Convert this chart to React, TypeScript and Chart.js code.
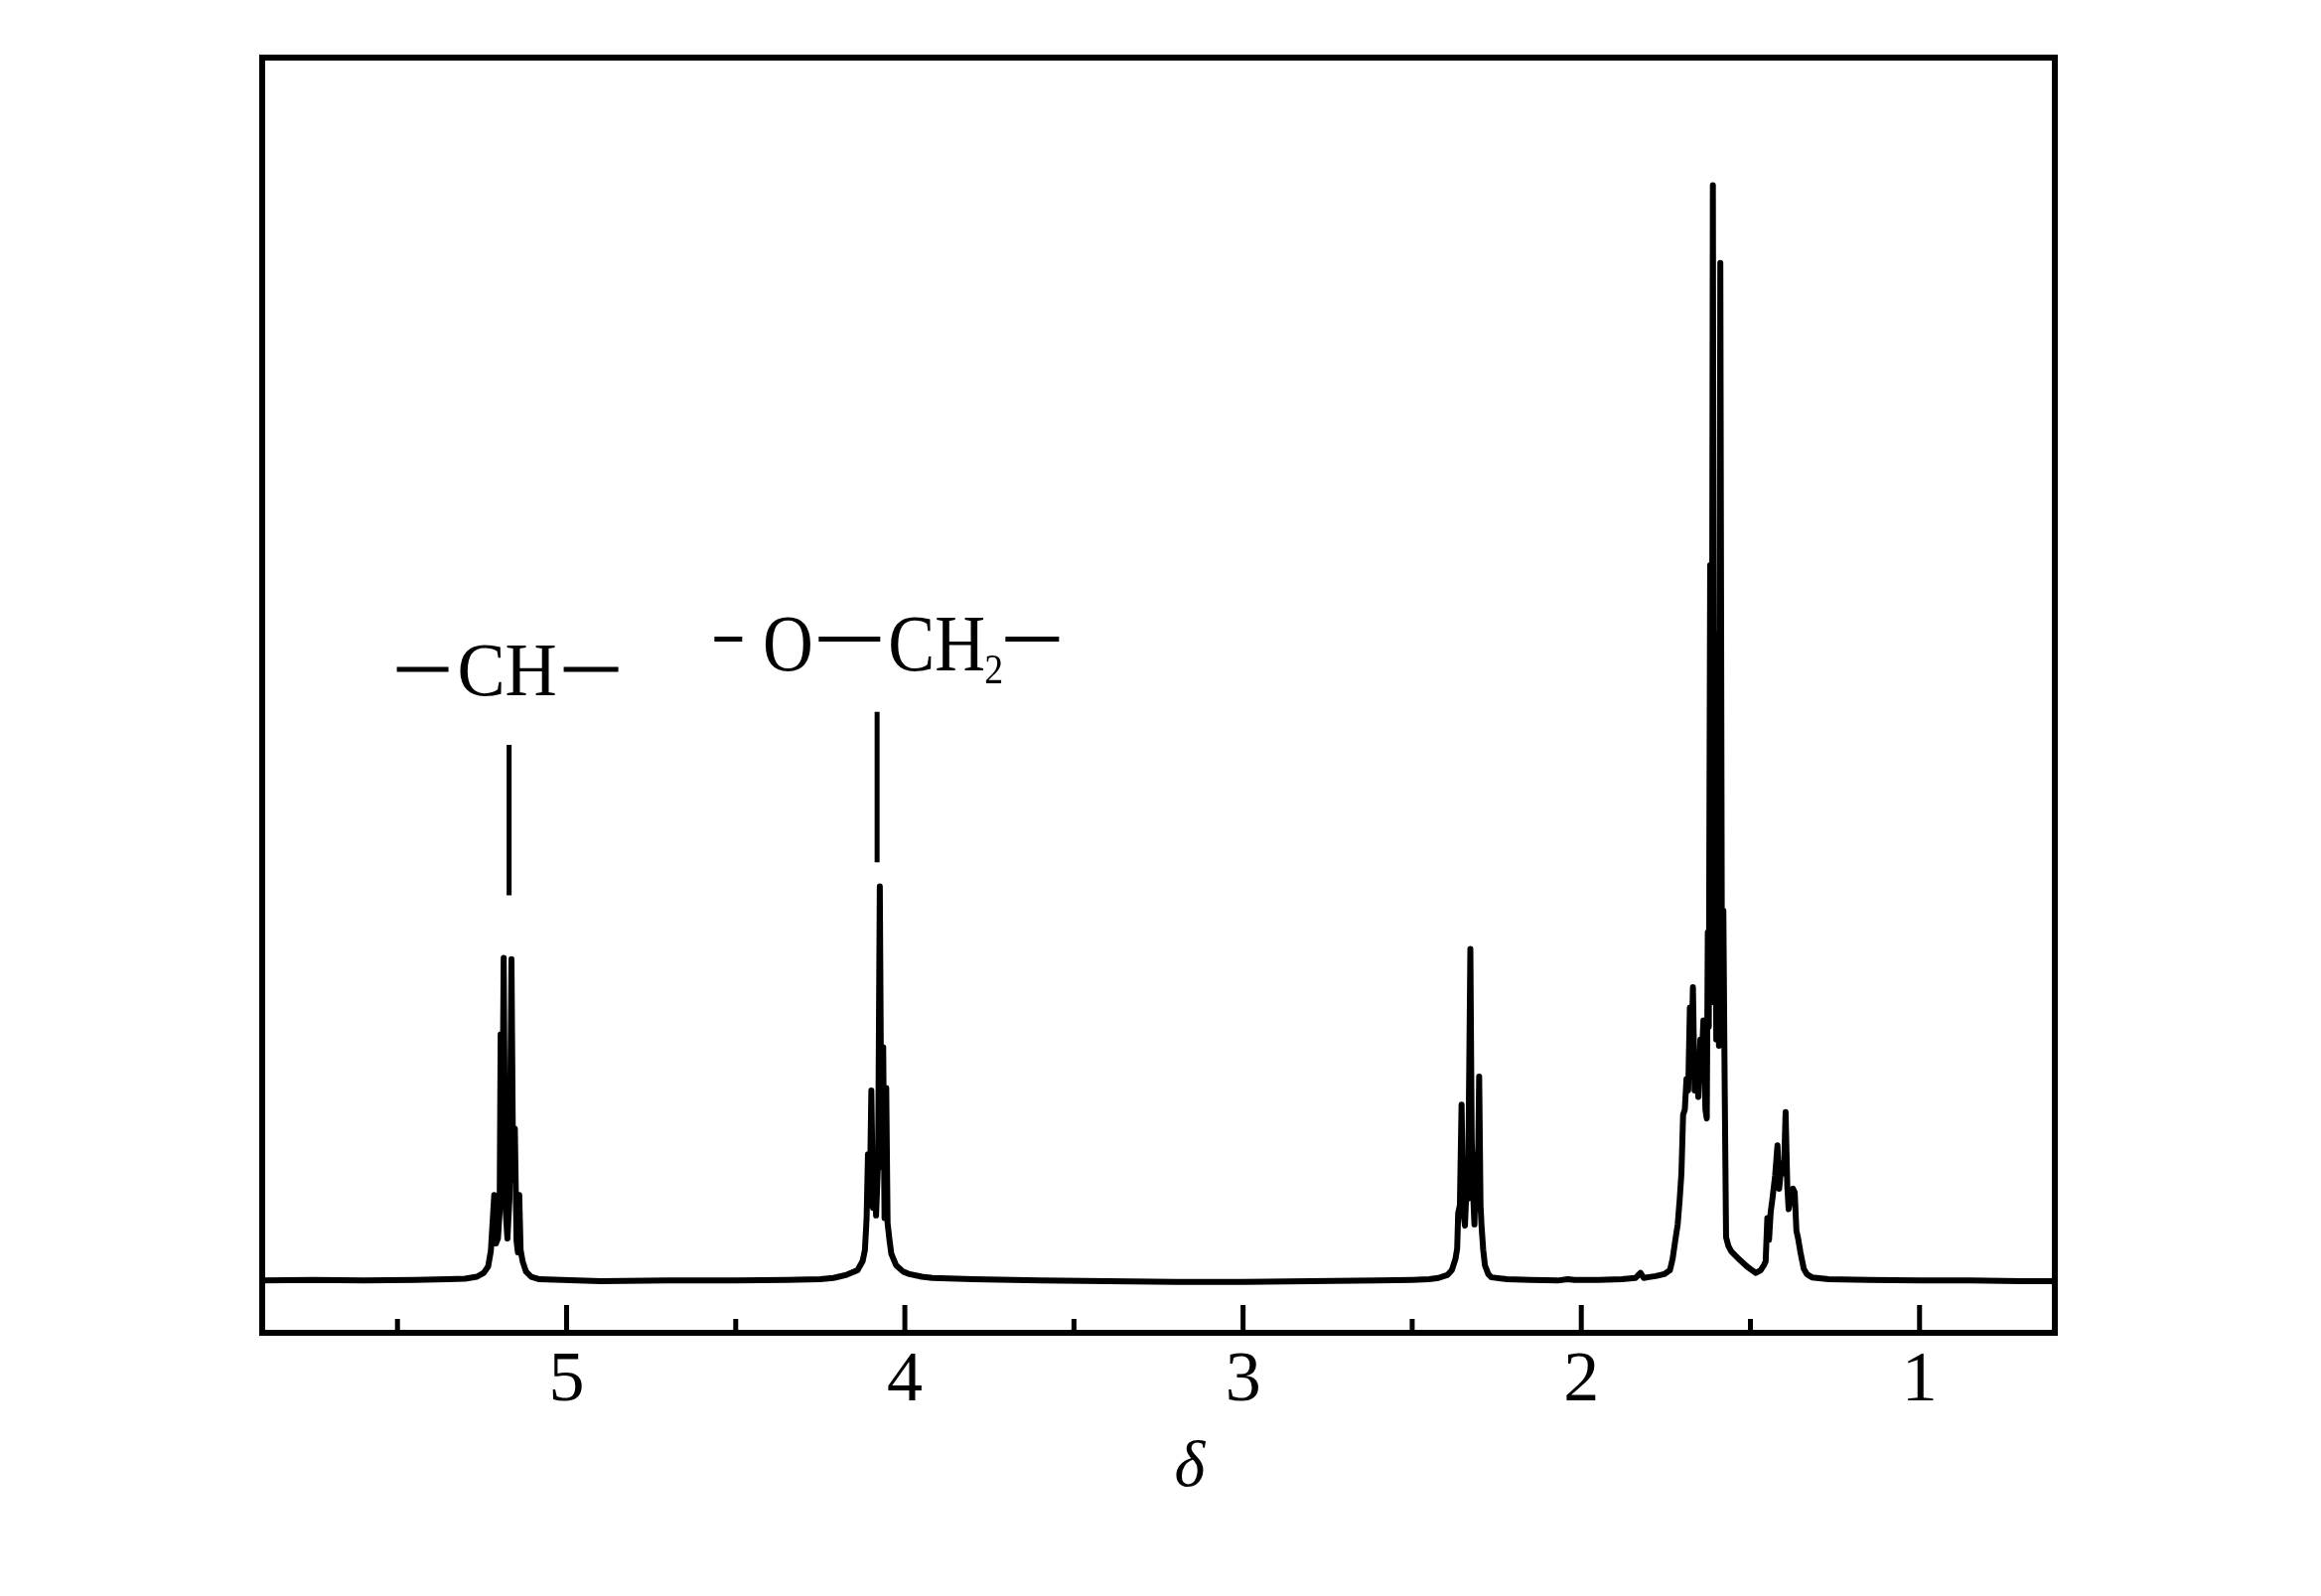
import { useEffect, useRef } from "react";
import { Chart, registerables } from "chart.js";

Chart.register(...registerables);

// ---- Spectrum data (chemical shift in ppm, intensity in arbitrary units) ----
const baseAPpm = [5.9, 5.75, 5.6, 5.45, 5.35];
const baseAInt = [0.1, 0.15, 0.1, 0.15, 0.2];

const chPpm = [5.3, 5.265, 5.245, 5.232, 5.224, 5.218, 5.214, 5.209, 5.203, 5.198, 5.195, 5.191, 5.186, 5.181, 5.175, 5.169, 5.163, 5.158, 5.153, 5.148, 5.144, 5.14, 5.136, 5.13, 5.12, 5.105, 5.08];
const chInt = [0.25, 0.4, 0.7, 1.2, 2.4, 5.0, 6.8, 3.0, 3.4, 5.5, 19.4, 8.5, 25.4, 6.0, 3.4, 6.5, 25.3, 8.0, 12.0, 3.2, 2.3, 6.8, 2.5, 1.6, 0.8, 0.4, 0.2];

const baseBPpm = [4.9, 4.7, 4.5, 4.35, 4.25];
const baseBInt = [0.05, 0.1, 0.1, 0.15, 0.2];

const och2Ppm = [4.211, 4.172, 4.14, 4.125, 4.118, 4.113, 4.109, 4.104, 4.099, 4.094, 4.089, 4.085, 4.079, 4.074, 4.069, 4.064, 4.06, 4.055, 4.051, 4.045, 4.04, 4.026, 4.005, 3.986, 3.95, 3.918];
const och2Int = [0.3, 0.55, 0.9, 1.6, 2.5, 5.0, 10.0, 6.0, 15.0, 5.8, 8.0, 5.2, 9.5, 31.0, 9.0, 18.4, 5.0, 15.2, 4.6, 3.2, 2.2, 1.3, 0.8, 0.6, 0.4, 0.3];

const baseCPpm = [3.8, 3.6, 3.4, 3.2, 3.0, 2.8, 2.6, 2.5, 2.45];
const baseCInt = [0.2, 0.1, 0.05, 0.0, 0.0, 0.05, 0.1, 0.15, 0.2];

const m23Ppm = [2.422, 2.395, 2.383, 2.372, 2.367, 2.364, 2.359, 2.354, 2.349, 2.344, 2.34, 2.335, 2.328, 2.324, 2.32, 2.316, 2.311, 2.306, 2.302, 2.298, 2.295, 2.29, 2.285, 2.275, 2.266, 2.22];
const m23Int = [0.3, 0.55, 0.9, 1.8, 2.6, 5.4, 6.0, 13.9, 5.5, 4.4, 7.0, 6.5, 26.1, 11.1, 7.0, 4.5, 10.0, 8.0, 16.1, 6.0, 4.4, 2.5, 1.3, 0.6, 0.35, 0.2];

const baseDPpm = [2.15, 2.07, 2.04, 2.02, 1.95, 1.88, 1.84, 1.825, 1.815, 1.805];
const baseDInt = [0.15, 0.1, 0.2, 0.15, 0.15, 0.2, 0.3, 0.7, 0.3, 0.35];

const m16Ppm = [1.78, 1.755, 1.738, 1.73, 1.723, 1.715, 1.709, 1.704, 1.699, 1.694, 1.689, 1.684, 1.679, 1.675, 1.67, 1.665, 1.66, 1.654, 1.648, 1.643, 1.639, 1.633, 1.629, 1.626, 1.623, 1.619, 1.615, 1.611, 1.607, 1.604, 1.601, 1.597, 1.593, 1.589, 1.584, 1.58, 1.576, 1.572, 1.565, 1.557, 1.535, 1.51, 1.495, 1.484, 1.47, 1.46];
const m16Int = [0.45, 0.6, 0.9, 1.8, 3.1, 4.5, 6.5, 8.5, 13.1, 13.5, 15.9, 15.0, 21.5, 17.0, 23.1, 15.0, 16.5, 14.5, 19.0, 18.0, 20.5, 13.5, 12.8, 27.4, 20.0, 56.2, 22.0, 86.0, 21.9, 40.2, 19.0, 50.8, 18.5, 79.9, 20.0, 29.1, 15.1, 3.5, 2.8, 2.4, 1.8, 1.2, 0.9, 0.7, 0.9, 1.3];

const m14Ppm = [1.455, 1.45, 1.445, 1.44, 1.435, 1.427, 1.42, 1.415, 1.408, 1.401, 1.396, 1.391, 1.387, 1.382, 1.374, 1.369, 1.364, 1.359, 1.352, 1.342, 1.333, 1.318, 1.269];
const m14Int = [1.6, 5.0, 3.3, 5.5, 6.5, 8.3, 10.7, 7.3, 9.3, 8.5, 13.3, 7.5, 5.7, 6.5, 7.3, 7.0, 4.0, 3.4, 2.3, 1.0, 0.6, 0.35, 0.2];

const baseEPpm = [1.15, 1.0, 0.85, 0.7, 0.6];
const baseEInt = [0.15, 0.1, 0.1, 0.05, 0.05];

// ---- Axis ----
const xTickValues = [5.5, 5, 4.5, 4, 3.5, 3, 2.5, 2, 1.5, 1];
const X_MIN = 0.6;
const X_MAX = 5.9;
const Y_MIN = -4;
const Y_MAX = 96;
const axisTitle = "δ";
const axisTitlePpm = 3.158;

// ---- Assignment markers (ppm, low and high intensity of the bar) ----
const markerPpm = [5.17, 4.082];
const markerLow = [30.3, 32.9];
const markerHigh = [42.1, 44.7];

// ---- Assignment labels ----
const chLabel = { text: "CH", ppm: 5.176, level: 46.0 };
const och2Label = { o: "O", ch: "CH", sub: "2", ppm: 4.563, level: 47.4 };

const W = 2337;
const H = 1607;
const FONT = '"Liberation Serif", "Times New Roman", serif';

function toPoints(ppm: number[], inten: number[]) {
  return ppm.map((x, i) => ({ x, y: inten[i] }));
}

const spectrum = [
  ...toPoints(baseAPpm, baseAInt),
  ...toPoints(chPpm, chInt),
  ...toPoints(baseBPpm, baseBInt),
  ...toPoints(och2Ppm, och2Int),
  ...toPoints(baseCPpm, baseCInt),
  ...toPoints(m23Ppm, m23Int),
  ...toPoints(baseDPpm, baseDInt),
  ...toPoints(m16Ppm, m16Int),
  ...toPoints(m14Ppm, m14Int),
  ...toPoints(baseEPpm, baseEInt),
];

function squeezedText(ctx: CanvasRenderingContext2D, text: string, x: number, y: number, sx: number, align: CanvasTextAlign) {
  ctx.save();
  ctx.translate(x, y);
  ctx.scale(sx, 1);
  ctx.textAlign = align;
  ctx.fillText(text, 0, 0);
  ctx.restore();
}

const decorPlugin = {
  id: "nmrDecor",
  afterDraw(chart: any) {
    const { ctx, chartArea: ca, scales } = chart;
    const xs = scales.x;
    const ys = scales.y;
    ctx.save();
    ctx.strokeStyle = "#000";
    ctx.fillStyle = "#000";
    // frame
    ctx.lineWidth = 6;
    ctx.strokeRect(ca.left, ca.top, ca.right - ca.left, ca.bottom - ca.top);
    // inward tick marks
    ctx.lineWidth = 5;
    ctx.lineCap = "butt";
    for (const t of xs.ticks) {
      const px = xs.getPixelForValue(t.value);
      const len = Number.isInteger(t.value) ? 28 : 14;
      ctx.beginPath();
      ctx.moveTo(px, ca.bottom);
      ctx.lineTo(px, ca.bottom - len);
      ctx.stroke();
    }
    // axis title
    ctx.font = `italic 66px ${FONT}`;
    ctx.textAlign = "center";
    ctx.textBaseline = "alphabetic";
    ctx.fillText(axisTitle, xs.getPixelForValue(axisTitlePpm), ca.bottom + 154);

    // —CH— label
    const cx = xs.getPixelForValue(chLabel.ppm);
    const cy = ys.getPixelForValue(chLabel.level);
    ctx.font = `76px ${FONT}`;
    squeezedText(ctx, chLabel.text, cx, cy, 0.95, "center");
    ctx.fillRect(cx - 111, cy - 28.5, 52, 5);
    ctx.fillRect(cx + 57, cy - 28.5, 55, 5);

    // —O—CH2— label
    const x0 = xs.getPixelForValue(och2Label.ppm);
    const y0 = ys.getPixelForValue(och2Label.level);
    const ty = y0 - 7;
    ctx.font = `80px ${FONT}`;
    ctx.fillRect(x0, y0 - 41, 28, 5);
    squeezedText(ctx, och2Label.o, x0 + 74, ty, 0.88, "center");
    ctx.fillRect(x0 + 105, y0 - 41, 62, 5);
    squeezedText(ctx, och2Label.ch, x0 + 175, ty, 0.88, "left");
    ctx.font = `42px ${FONT}`;
    squeezedText(ctx, och2Label.sub, x0 + 272, y0 + 6, 0.9, "left");
    ctx.fillRect(x0 + 293, y0 - 41, 54, 5);
    ctx.restore();
  },
};

export default function App() {
  const ref = useRef<HTMLCanvasElement | null>(null);

  useEffect(() => {
    if (!ref.current) return;
    const markerSets = markerPpm.map((p, i) => ({
      data: [
        { x: p, y: markerLow[i] },
        { x: p, y: markerHigh[i] },
      ],
      borderColor: "#000",
      borderWidth: 5,
      borderCapStyle: "butt" as const,
      pointRadius: 0,
      tension: 0,
    }));
    const chart = new Chart(ref.current, {
      type: "line",
      data: {
        datasets: [
          {
            data: spectrum,
            borderColor: "#000",
            borderWidth: 6,
            borderJoinStyle: "round",
            borderCapStyle: "round",
            pointRadius: 0,
            tension: 0,
            fill: false,
          },
          ...markerSets,
        ],
      },
      options: {
        responsive: false,
        animation: false,
        devicePixelRatio: 1,
        events: [],
        layout: { padding: { left: 264, right: 268, top: 58, bottom: 0 } },
        plugins: { legend: { display: false }, tooltip: { enabled: false } },
        scales: {
          x: {
            type: "linear",
            position: "bottom",
            reverse: true,
            min: X_MIN,
            max: X_MAX,
            afterBuildTicks: (scale: any) => {
              scale.ticks = xTickValues.map((v) => ({ value: v }));
            },
            afterFit: (scale: any) => {
              scale.height = H - 1342;
            },
            grid: { display: false, drawTicks: false },
            border: { display: false },
            ticks: {
              autoSkip: false,
              maxRotation: 0,
              padding: 6,
              color: "#000",
              font: { family: FONT, size: 72 },
              callback: (v: any) => (Number.isInteger(v) ? String(v) : ""),
            },
          },
          y: {
            type: "linear",
            display: false,
            min: Y_MIN,
            max: Y_MAX,
          },
        },
      },
      plugins: [decorPlugin],
    });
    return () => chart.destroy();
  }, []);

  return (
    <div style={{ position: "fixed", left: 0, top: 0, width: W, height: H, background: "#fff" }}>
      <canvas ref={ref} width={W} height={H} style={{ display: "block" }} />
    </div>
  );
}
